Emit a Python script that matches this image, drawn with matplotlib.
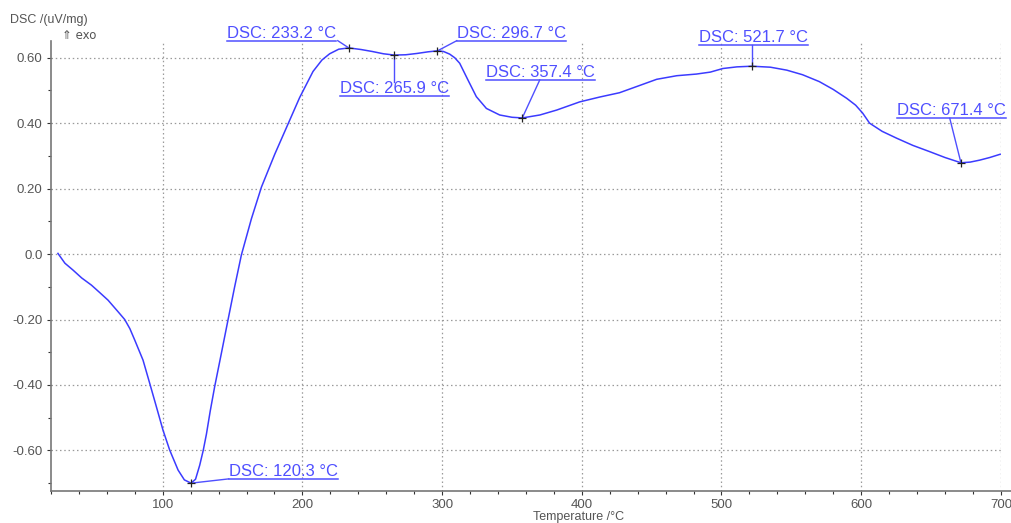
import matplotlib
matplotlib.use("Agg")
import matplotlib.pyplot as plt
import matplotlib.ticker as mticker
import numpy as np

plt.rcParams["font.family"] = ["Liberation Sans", "DejaVu Sans"]

# DSC trace: temperature (°C) and signal (uV/mg)
temp = [25.0, 30.0, 35.8, 42.0, 49.0, 55.0, 60.9, 68.0, 72.8, 76.5, 80.0,
        85.9, 90.7, 95.5, 100.2, 105.0, 111.0, 115.5, 120.3, 123.5, 126.5,
        129.0, 131.3, 134.0, 137.2, 142.0, 146.8, 151.5, 156.3, 163.5, 170.7,
        180.2, 191.0, 198.0, 207.6, 214.0, 219.5, 226.0, 233.2, 242.0, 250.0,
        258.0, 265.9, 274.0, 282.0, 290.0, 296.7, 301.0, 305.4, 309.0, 312.6,
        318.5, 324.5, 331.7, 341.2, 350.0, 357.4, 370.0, 382.0, 398.5, 413.0,
        427.0, 440.0, 453.6, 468.0, 482.0, 492.0, 501.0, 511.0, 521.7, 535.0,
        546.7, 558.0, 570.0, 580.0, 589.6, 596.0, 601.0, 606.0, 615.0, 625.4,
        637.0, 649.0, 660.0, 671.4, 678.0, 684.8, 692.0, 699.5]
dsc = [0.002, -0.028, -0.049, -0.073, -0.095, -0.118, -0.141, -0.176,
       -0.200, -0.228, -0.263, -0.324, -0.395, -0.467, -0.538, -0.599,
       -0.660, -0.690, -0.700, -0.688, -0.645, -0.600, -0.550, -0.480,
       -0.405, -0.303, -0.200, -0.100, -0.003, 0.108, 0.205, 0.305, 0.410,
       0.478, 0.558, 0.593, 0.612, 0.626, 0.630, 0.625, 0.619, 0.612, 0.608,
       0.609, 0.613, 0.618, 0.621, 0.619, 0.611, 0.600, 0.583, 0.532, 0.481,
       0.445, 0.425, 0.418, 0.416, 0.425, 0.440, 0.465, 0.480, 0.493, 0.513,
       0.534, 0.545, 0.550, 0.556, 0.567, 0.572, 0.574, 0.571, 0.562, 0.548,
       0.527, 0.503, 0.476, 0.455, 0.431, 0.400, 0.375, 0.354, 0.332, 0.313,
       0.295, 0.279, 0.281, 0.287, 0.295, 0.305]

# peak labels: temperature, underline start (x, y), leader end (x, y)
peak_temps = [120.3, 233.2, 265.9, 296.7, 357.4, 521.7, 671.4]
label_x = [147.2, 145.8, 226.7, 310.5, 331.2, 483.7, 625.4]
label_y = [-0.687, 0.652, 0.483, 0.652, 0.532, 0.639, 0.415]
leader_x = [147.2, 225.3, 265.9, 310.5, 369.9, 521.7, 663.4]
leader_y = [-0.687, 0.652, 0.527, 0.652, 0.532, 0.639, 0.415]

xticks = [100, 200, 300, 400, 500, 600, 700]
yticks = [-0.6, -0.4, -0.2, 0.0, 0.2, 0.4, 0.6]
ytick_labels = ["-0.60", "-0.40", "-0.20", "0.0", "0.20", "0.40", "0.60"]

LINE = "#3b3bff"
TEXT_BLUE = "#4f4fff"
GREY = "#555555"

fig = plt.figure(figsize=(10.11, 5.23), dpi=100)
ax = fig.add_axes([0.0504, 0.0618, 0.9396, 0.8604])

ax.plot(temp, dsc, color=LINE, lw=1.1, zorder=3)

ax.set_xlim(20, 700)
ax.set_ylim(-0.723, 0.652)
ax.set_xticks(xticks)
ax.set_yticks(yticks)
ax.set_yticklabels(ytick_labels)
ax.xaxis.set_minor_locator(mticker.MultipleLocator(20))
ax.yaxis.set_minor_locator(mticker.MultipleLocator(0.1))
ax.tick_params(which="major", direction="out", length=3, width=0.8,
               colors="#333333", labelsize=9.5, labelcolor=GREY, pad=3)
ax.tick_params(which="minor", direction="out", length=2, width=0.8,
               colors="#333333")
ax.grid(True, which="major", color="#9a9a9a", ls=(0, (1.2, 2.2)), lw=0.9)
ax.set_axisbelow(True)

for side in ("top", "right"):
    ax.spines[side].set_visible(False)
for side in ("left", "bottom"):
    ax.spines[side].set_color("#777777")
    ax.spines[side].set_linewidth(1.2)
ax.spines["bottom"].set_bounds(20, 707)

fig.text(0.0099, 0.962, "DSC /(uV/mg)", fontsize=9, color=GREY,
         va="center", ha="left")
fig.text(0.061, 0.933, "⇑ exo", fontsize=8.5, color=GREY,
         va="center", ha="left", family=["DejaVu Sans"])
fig.text(0.572, 0.011, "Temperature /°C", fontsize=9, color=GREY,
         va="center", ha="center")

# peak markers with underlined labels and leader lines
peak_vals = np.interp(peak_temps, temp, dsc)
ax.plot(peak_temps, peak_vals, ls="none", marker="+", ms=6, mew=0.9,
        color="#222222", zorder=5)

fig.canvas.draw()
renderer = fig.canvas.get_renderer()
for t, v, lx, ly, ax_, ay_ in zip(peak_temps, peak_vals, label_x, label_y,
                                  leader_x, leader_y):
    txt = ax.annotate(f"DSC: {t:.1f} °C", xy=(lx, ly), xytext=(0, 2.2),
                      textcoords="offset points", ha="left", va="baseline",
                      fontsize=12, color=TEXT_BLUE, annotation_clip=False)
    bb = txt.get_window_extent(renderer)
    x1 = ax.transData.inverted().transform((bb.x1, 0))[0]
    ax.plot([lx, x1], [ly, ly], color=TEXT_BLUE, lw=1.1, clip_on=False,
            zorder=4)
    ax.plot([t, ax_], [v, ay_], color=TEXT_BLUE, lw=1.0, clip_on=False,
            zorder=4)

fig.savefig("out.png", dpi=100)
